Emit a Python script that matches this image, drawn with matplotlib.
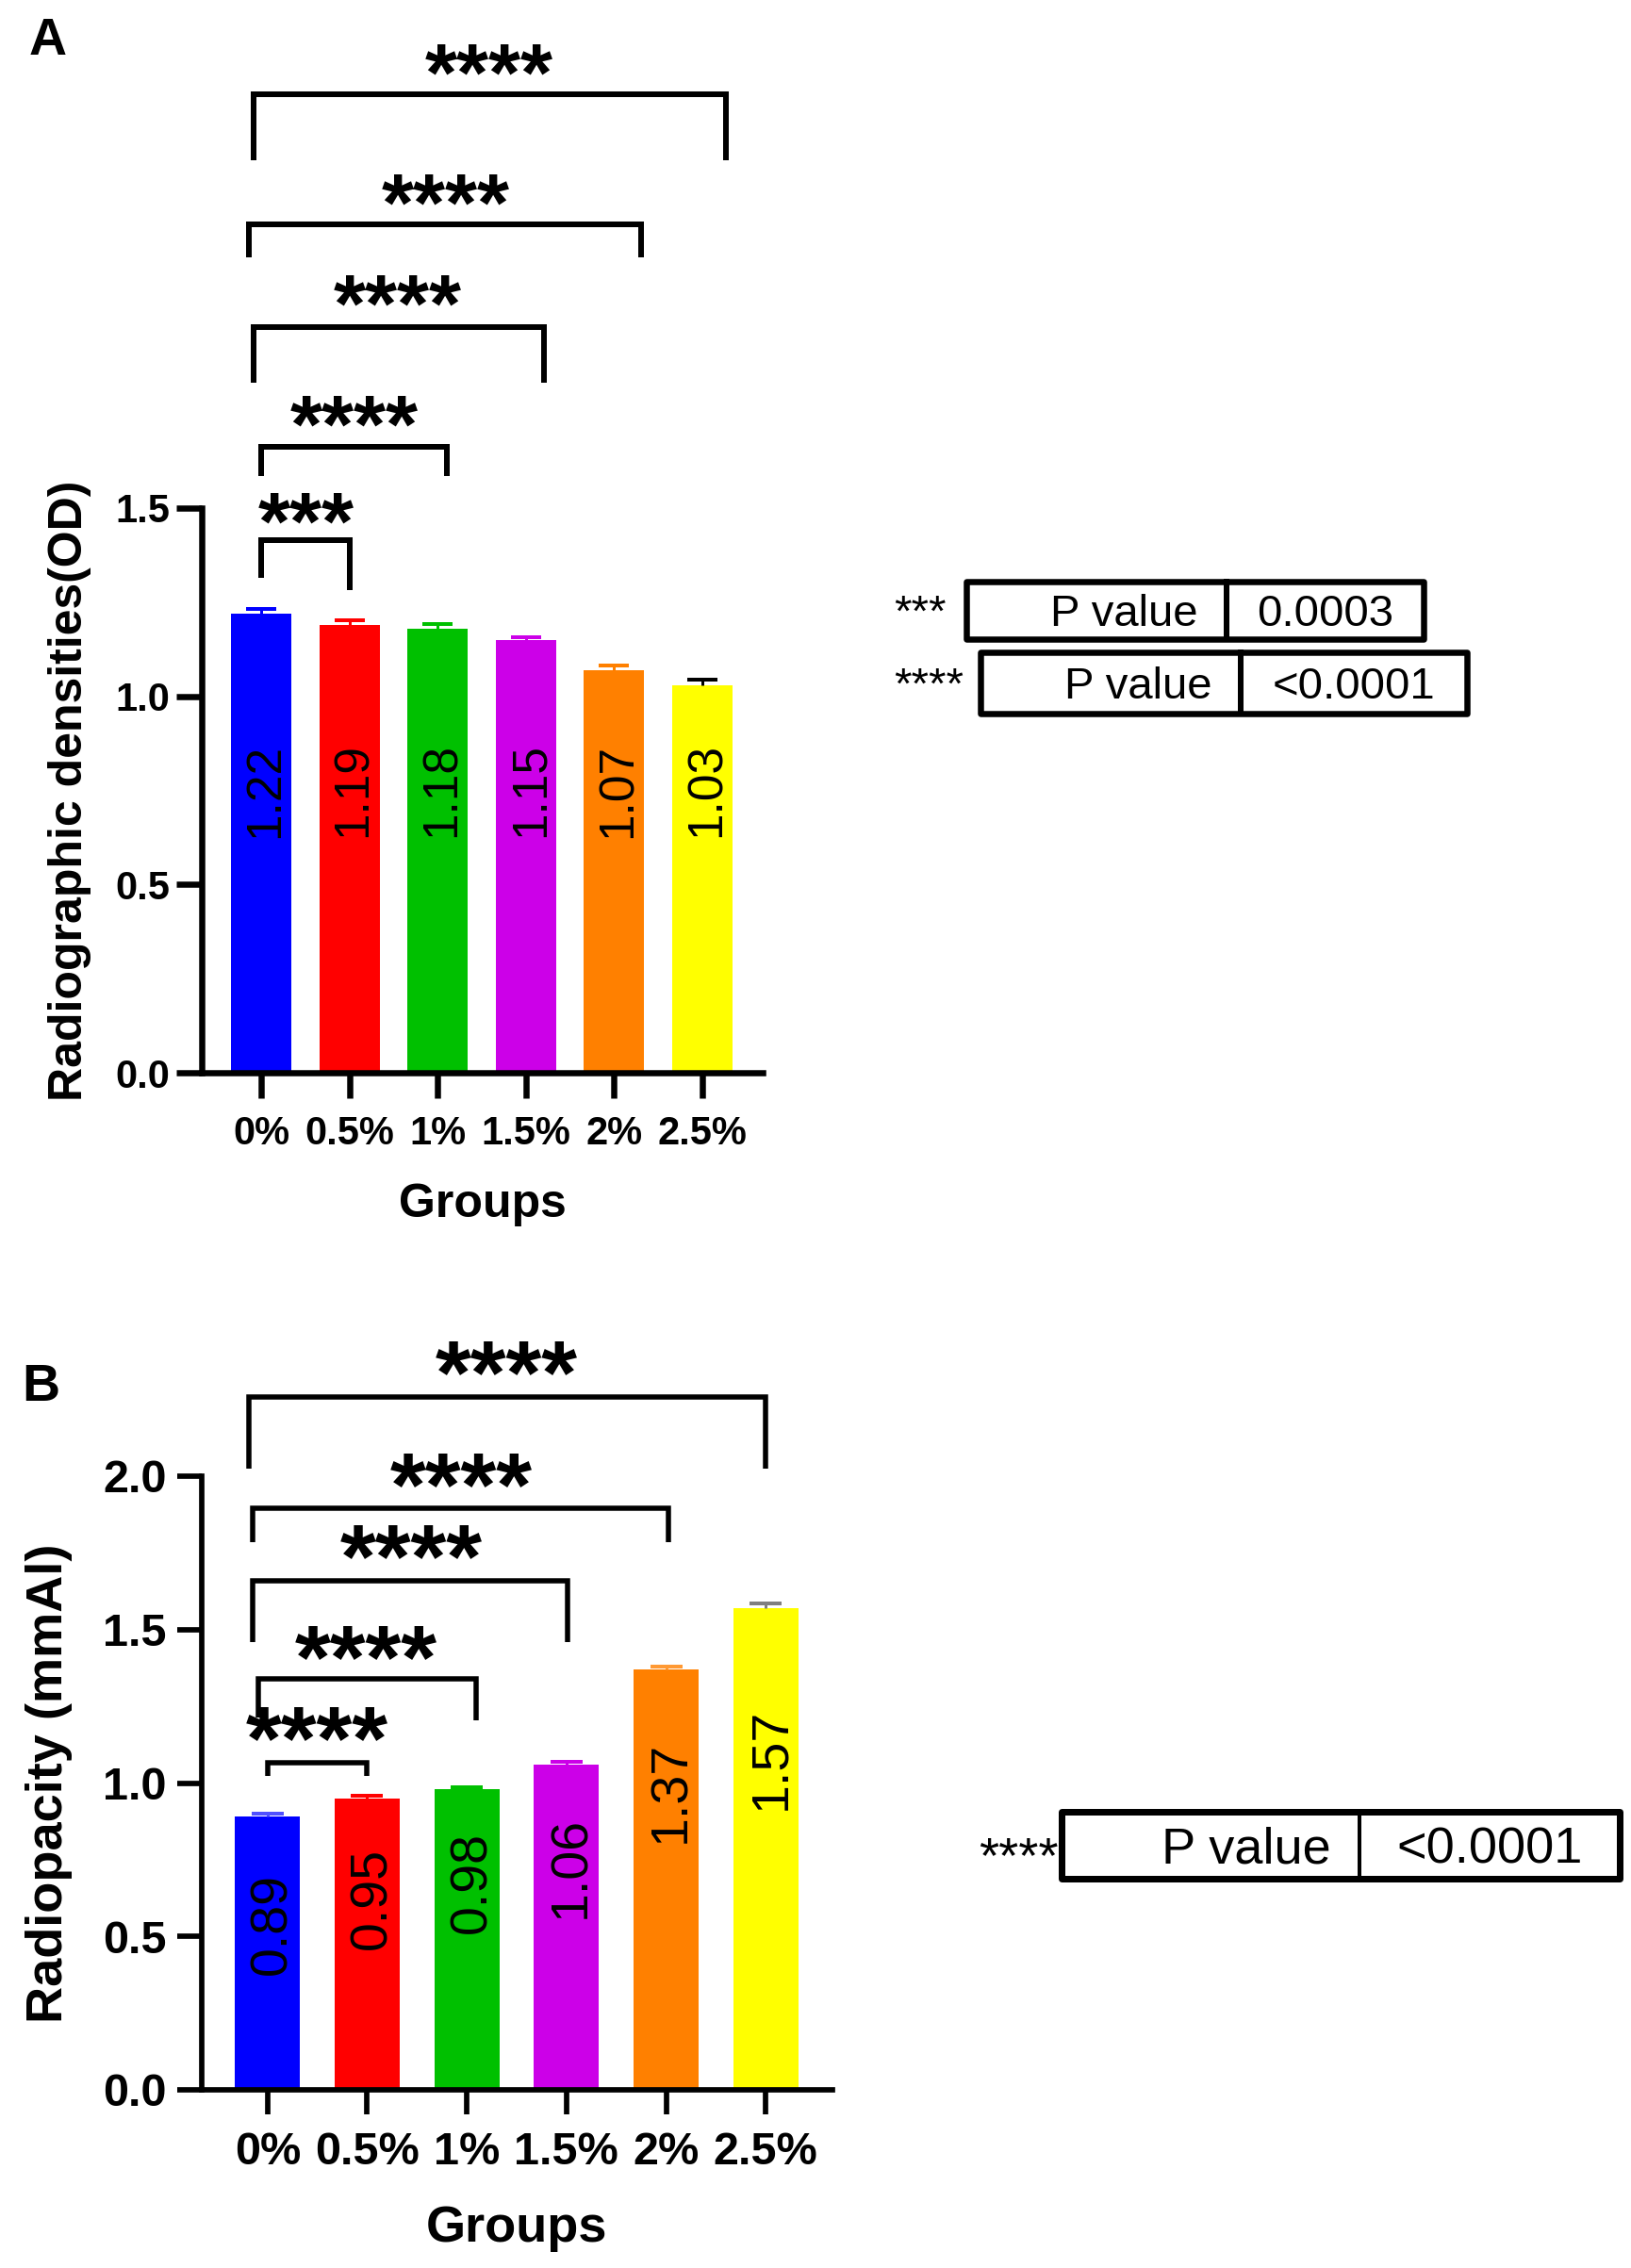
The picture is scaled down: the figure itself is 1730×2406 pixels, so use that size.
import matplotlib
matplotlib.use('Agg')
import matplotlib.pyplot as plt
import matplotlib.transforms as mtransforms
from matplotlib.patches import Rectangle
from matplotlib.lines import Line2D
from matplotlib.textpath import TextPath
from matplotlib.font_manager import FontProperties

plt.rcParams['font.family'] = ['Liberation Sans', 'DejaVu Sans']

# ---------------- data ----------------
groups = ['0%', '0.5%', '1%', '1.5%', '2%', '2.5%']
bar_colors = ['#0000FF', '#FF0000', '#00C000', '#CC00E8', '#FF8000', '#FFFF00']

density_od = [1.22, 1.19, 1.18, 1.15, 1.07, 1.03]
density_err = [0.011, 0.012, 0.011, 0.008, 0.011, 0.015]
density_err_colors = ['#0000FF', '#FF0000', '#00C000', '#CC00E8', '#FF8000', '#000000']

radiopacity = [0.89, 0.95, 0.98, 1.06, 1.37, 1.57]
radiopacity_err = [0.010, 0.007, 0.006, 0.008, 0.010, 0.016]
radiopacity_err_colors = ['#5050FF', '#FF0000', '#00C000', '#CC00E8', '#FF9933', '#808080']

# comparisons (group i vs group j, significance)
comparisons_a = [(0, 1, '***'), (0, 2, '****'), (0, 3, '****'), (0, 4, '****'), (0, 5, '****')]
comparisons_b = [(0, 1, '****'), (0, 2, '****'), (0, 3, '****'), (0, 4, '****'), (0, 5, '****')]

p_table_a = [('***', 'P value', '0.0003'), ('****', 'P value', '<0.0001')]
p_table_b = [('****', 'P value', '<0.0001')]

# ---------------- layout (pixels / data positions) ----------------
W, H, DPI = 1731, 2406, 100
# bracket geometry: (x_left_offset, x_right_offset, y_bar, y_left_leg_end, y_right_leg_end, text_x, text_y)
brackets_a = [(0.00, 0.00, 1.416, 1.315, 1.281, 0.51, 1.501),
              (0.00, 0.11, 1.664, 1.586, 1.586, 1.05, 1.759),
              (-0.09, 0.20, 1.982, 1.832, 1.832, 1.55, 2.080),
              (-0.14, 0.31, 2.253, 2.165, 2.165, 2.09, 2.348),
              (-0.09, 0.27, 2.600, 2.423, 2.423, 2.58, 2.694)]
brackets_b = [(0.00, 0.00, 1.067, 1.022, 1.022, 0.50, 1.194),
              (-0.09, 0.09, 1.338, 1.215, 1.205, 0.99, 1.460),
              (-0.15, 0.01, 1.660, 1.460, 1.460, 1.44, 1.787),
              (-0.15, 0.02, 1.897, 1.784, 1.784, 1.94, 2.020),
              (-0.19, 0.00, 2.259, 2.025, 2.025, 2.40, 2.386)]
label_y_a = [0.75, 0.75, 0.75, 0.75, 0.75, 0.75]
label_y_b = [0.54, 0.625, 0.675, 0.725, 0.97, 1.08]


def pt(px):
    return px * 72.0 / DPI


def fx(px):
    return px / W


def fy(py):
    return 1 - py / H


def glyph_center_em(s, weight):
    tp = TextPath((0, 0), s, size=1, prop=FontProperties(family='Liberation Sans', weight=weight))
    e = tp.get_extents()
    return (e.y0 + e.y1) / 2.0


fig = plt.figure(figsize=(W / DPI, H / DPI), dpi=DPI)
fig.patch.set_facecolor('white')


def fig_text(x_px, yc_px, s, size, weight='normal', ha='left', glyph=False):
    """Place text so its glyphs are vertically centered at yc_px (pixels from top)."""
    if glyph:
        c = glyph_center_em(s, weight)
    else:
        c = 0.358
    base = yc_px + c * size * DPI / 72.0
    fig.text(fx(x_px), fy(base), s, fontsize=size, fontweight=weight, ha=ha, va='baseline')


def draw_panel(rect_px, values, errs, err_colors, ylim, yticks, ylabel, xlim, bar_w,
               spine_px, tick_len_px, tick_fs, ylab_fs, val_fs, star_fs, star_weight, bracket_px,
               capsize_px, label_ys, comps, brks, ylab_x_px, xlab_y_px, ypad, xpad):
    left, top, right, bottom = rect_px
    ax = fig.add_axes([fx(left), fy(bottom), (right - left) / W, (bottom - top) / H])
    x = list(range(len(groups)))
    ax.bar(x, values, width=bar_w, color=bar_colors, zorder=2)
    for i in x:
        eb = ax.errorbar(i, values[i], yerr=[[0], [errs[i]]], fmt='none', ecolor=err_colors[i],
                         elinewidth=pt(3), capsize=pt(capsize_px), capthick=pt(4), zorder=3)
        eb[1][0].set_visible(False)
    ax.set_xlim(*xlim)
    ax.set_ylim(*ylim)
    for s in ['top', 'right']:
        ax.spines[s].set_visible(False)
    for s in ['left', 'bottom']:
        ax.spines[s].set_linewidth(pt(spine_px))
    ax.set_yticks(yticks)
    ax.set_yticklabels(['%.1f' % t for t in yticks])
    ax.set_xticks(x)
    ax.set_xticklabels(groups)
    ax.tick_params(axis='both', length=pt(tick_len_px), width=pt(spine_px), labelsize=tick_fs)
    ax.tick_params(axis='y', pad=ypad)
    ax.tick_params(axis='x', pad=xpad)
    for lab in ax.get_xticklabels() + ax.get_yticklabels():
        lab.set_fontweight('bold')
    ax.set_ylabel(ylabel, fontsize=ylab_fs, fontweight='bold', va='center')
    ax.yaxis.set_label_coords((ylab_x_px - left) / (right - left), 0.5)
    ax.set_xlabel('Groups', fontsize=ylab_fs, fontweight='bold', va='center')
    ax.xaxis.set_label_coords(0.5, (bottom - xlab_y_px) / (bottom - top))

    # value labels inside bars
    for i in x:
        tr = mtransforms.offset_copy(ax.transData, fig=fig, x=0.358 * val_fs, y=0, units='points')
        ax.text(i, label_ys[i], '%.2f' % values[i], rotation=90, rotation_mode='anchor',
                ha='center', va='baseline', fontsize=val_fs, transform=tr, zorder=4)

    # significance brackets
    sc = glyph_center_em('*', star_weight)
    for (i, j, stars), (dl, dr, yb, yl, yr, tx, ty) in zip(comps, brks):
        xl, xr = i + dl, j + dr
        ax.plot([xl, xl, xr, xr], [yl, yb, yb, yr], color='black', lw=pt(bracket_px),
                clip_on=False, solid_joinstyle='miter', solid_capstyle='butt', zorder=5)
        tr = mtransforms.offset_copy(ax.transData, fig=fig, x=0, y=-sc * star_fs, units='points')
        ax.text(tx, ty, stars, ha='center', va='baseline', fontsize=star_fs, fontweight=star_weight,
                transform=tr, clip_on=False)
    return ax


# Panel A
draw_panel((214, 539, 809, 1138), density_od, density_err, density_err_colors,
           (0, 1.5), [0.0, 0.5, 1.0, 1.5], 'Radiographic densities(OD)',
           (-0.673, 5.684), 0.684, 6.5, 27, 30, 36, 37, 63, 'bold', 6.0, 16,
           label_y_a, comparisons_a, brackets_a, 74, 1278, 5, 13)

# Panel B
draw_panel((214, 1566, 883, 2217), radiopacity, radiopacity_err, radiopacity_err_colors,
           (0, 2.0), [0.0, 0.5, 1.0, 1.5, 2.0], 'Radiopacity (mmAl)',
           (-0.66, 5.67), 0.655, 5.7, 26, 35, 39, 40, 70, 'bold', 5.5, 17,
           label_y_b, comparisons_b, brackets_b, 52, 2364, 8, 13)

# panel letters
fig_text(31, 38, 'A', 40, 'bold')
fig_text(23, 1466, 'B', 40, 'bold')


# p-value tables
def draw_table(rows, star_x, star_ys, boxes, fs, lw_px, div_lw_px):
    for (stars, lab, val), sy, (bl, bt, br, bb, bd) in zip(rows, star_ys, boxes):
        fig_text(star_x, sy, stars, fs, 'normal', ha='left', glyph=True)
        fig.patches.append(Rectangle((fx(bl), fy(bb)), (br - bl) / W, (bb - bt) / H,
                                     transform=fig.transFigure, fill=False, edgecolor='black',
                                     lw=pt(lw_px), joinstyle='round'))
        fig.lines.append(Line2D([fx(bd), fx(bd)], [fy(bt), fy(bb)], transform=fig.transFigure,
                                color='black', lw=pt(div_lw_px)))
        yc = (bt + bb) / 2.0
        fig_text(bd - 30, yc, lab, fs, 'normal', ha='right')
        fig_text((bd + br) / 2.0, yc, val, fs, 'normal', ha='center')


draw_table(p_table_a, 948, [640, 717],
           [(1025, 617, 1510, 678, 1301), (1040, 692, 1556, 757, 1316)], 34, 6.5, 6)
draw_table(p_table_b, 1038, [1958],
           [(1126, 1922, 1718, 1993, 1442)], 39, 7, 4)

fig.savefig('out.png', dpi=DPI, facecolor='white')
